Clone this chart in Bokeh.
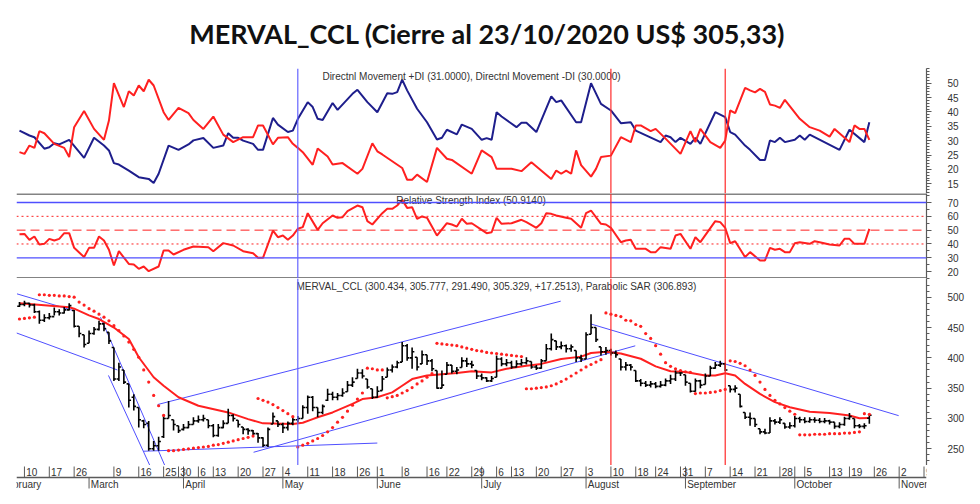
import pandas as pd
from bokeh.plotting import figure
from bokeh.layouts import column
from bokeh.models import Range1d, LinearAxis, FixedTicker, Span
from bokeh.embed import file_html
from bokeh.resources import INLINE
from bokeh.core.properties import value

# ---------------- calendar (trading days, index 0 = 2020-02-07) ----------------
holidays = ["2020-02-24", "2020-02-25", "2020-03-23", "2020-03-24", "2020-03-31",
            "2020-04-09", "2020-04-10", "2020-05-01", "2020-05-25", "2020-06-15",
            "2020-07-09", "2020-07-10", "2020-08-17", "2020-10-12", "2020-11-23"]
first_bar = "2020-02-07"

week_ticks = ["2020-02-10", "2020-02-17", "2020-02-26", "2020-03-09", "2020-03-16",
              "2020-03-25", "2020-03-30", "2020-04-01", "2020-04-06", "2020-04-13",
              "2020-04-20", "2020-04-27", "2020-05-04", "2020-05-11", "2020-05-18",
              "2020-05-26", "2020-06-01", "2020-06-08", "2020-06-16", "2020-06-22",
              "2020-06-29", "2020-07-01", "2020-07-06", "2020-07-13", "2020-07-20",
              "2020-07-27", "2020-08-03", "2020-08-10", "2020-08-18", "2020-08-24",
              "2020-08-31", "2020-09-01", "2020-09-07", "2020-09-14", "2020-09-21",
              "2020-09-28", "2020-10-01", "2020-10-05", "2020-10-13", "2020-10-19",
              "2020-10-26", "2020-11-02", "2020-11-09"]
week_labels = ["10", "17", "26", "9", "16", "25", "30", "", "6", "13", "20", "27", "4", "11",
               "18", "26", "1", "8", "16", "22", "29", "", "6", "13", "20", "27", "3", "10",
               "18", "24", "31", "", "7", "14", "21", "28", "", "5", "13", "19", "26", "2", "9"]
month_ticks = ["2020-02-03", "2020-03-02", "2020-04-01", "2020-05-04", "2020-06-01",
               "2020-07-01", "2020-08-03", "2020-09-01", "2020-10-01", "2020-11-02"]
month_labels = ["February", "March", "April", "May", "June", "July", "August",
                "September", "October", "November"]
vline_dates = ["2020-05-07", "2020-08-10", "2020-09-11"]
vline_colors = ["#6464ff", "#ff2a2a", "#ff2a2a"]

# ---------------- price (OHLC), one value per trading day ----------------
p_open = [485, 488, 490, 487, 476, 462, 466, 468, 476, 474,
          479, 478, 452, 438, 424, 440, 447, 456, 442, 417,
          365, 380, 357, 335, 318, 296, 292, 250, 255, 270,
          300, 298, 288, 282, 285, 290, 296, 298, 298, 288,
          272, 285, 292, 305, 297, 286, 282, 280, 275, 268,
          256, 291, 296, 290, 285, 292, 298, 300, 318, 335,
          318, 310, 330, 340, 335, 338, 344, 355, 366, 375,
          365, 349, 335, 346, 368, 380, 385, 393, 420, 400,
          401, 390, 405, 395, 379, 350, 373, 388, 378, 384,
          395, 390, 379, 370, 367, 362, 368, 398, 390, 392,
          385, 390, 392, 394, 385, 383, 395, 415, 428, 418,
          420, 415, 412, 400, 398, 439, 450, 418, 410, 412,
          408, 398, 385, 388, 379, 362, 358, 355, 357, 353,
          355, 362, 365, 375, 372, 358, 345, 362, 356, 370,
          383, 388, 390, 354, 348, 340, 310, 302, 300, 283,
          278, 276, 296, 294, 292, 286, 288, 300, 298, 295,
          298, 297, 295, 296, 294, 287, 290, 300, 300, 288,
          287, 300.434]
p_high = [492, 494, 491, 489, 478, 472, 474, 483, 480, 484,
          490, 479, 452, 438, 445, 451, 461, 458, 442, 417,
          392, 380, 357, 340, 318, 298, 296, 263, 270, 307,
          329, 298, 288, 291, 296, 302, 305, 306, 298, 291,
          291, 297, 316, 307, 297, 286, 284, 281, 276, 269,
          285, 310, 296, 293, 295, 302, 304, 322, 338, 337,
          318, 323, 349, 344, 342, 350, 362, 368, 382, 381,
          365, 349, 353, 370, 384, 389, 395, 426, 423, 417,
          401, 412, 405, 398, 379, 379, 393, 388, 385, 401,
          400, 395, 379, 374, 368, 370, 404, 401, 398, 395,
          396, 398, 401, 394, 388, 398, 423, 440, 428, 427,
          422, 422, 412, 405, 442, 472, 450, 418, 418, 415,
          412, 398, 393, 390, 379, 365, 362, 362, 360, 362,
          366, 372, 379, 380, 372, 358, 366, 364, 374, 387,
          393, 395, 392, 354, 355, 340, 310, 310, 300, 283,
          283, 302, 299, 302, 292, 294, 304, 303, 302, 302,
          302, 301, 301, 298, 294, 294, 303, 309, 300, 291,
          292, 305.777]
p_low = [484, 485, 483, 474, 456, 459, 463, 470, 470, 473,
         478, 450, 434, 417, 424, 438, 445, 444, 423, 362,
         362, 357, 318, 313, 285, 284, 247, 247, 247, 268,
         300, 280, 276, 280, 284, 290, 293, 295, 284, 269,
         270, 284, 292, 295, 285, 274, 273, 270, 260, 253,
         253, 291, 286, 276, 280, 289, 294, 300, 308, 312,
         302, 307, 329, 330, 330, 336, 344, 352, 366, 366,
         349, 332, 334, 346, 368, 376, 383, 393, 395, 382,
         379, 390, 388, 378, 349, 350, 373, 374, 373, 384,
         385, 383, 365, 363, 360, 360, 368, 386, 386, 382,
         384, 387, 389, 382, 380, 382, 395, 412, 413, 414,
         409, 410, 393, 393, 398, 439, 426, 404, 405, 404,
         400, 379, 379, 379, 360, 353, 352, 351, 350, 351,
         353, 357, 362, 370, 354, 343, 344, 350, 356, 370,
         382, 385, 378, 343, 343, 318, 299, 288, 286, 274,
         274, 276, 290, 291, 283, 283, 285, 293, 292, 293,
         293, 292, 292, 290, 283, 284, 288, 298, 284, 284,
         283, 291.490]
p_close = [488, 490, 487, 476, 462, 466, 468, 476, 474, 479,
           486, 452, 440, 422, 440, 447, 456, 448, 428, 365,
           385, 360, 330, 320, 298, 290, 250, 255, 262, 300,
           305, 290, 280, 285, 290, 296, 298, 300, 288, 272,
           285, 292, 305, 300, 290, 282, 280, 275, 268, 256,
           282, 303, 290, 285, 292, 298, 300, 318, 335, 318,
           310, 320, 340, 335, 338, 342, 355, 360, 375, 370,
           352, 335, 345, 365, 380, 385, 392, 420, 400, 410,
           385, 405, 395, 382, 350, 355, 388, 378, 380, 395,
           390, 388, 370, 367, 362, 366, 398, 390, 392, 385,
           390, 392, 395, 385, 383, 395, 415, 430, 418, 420,
           415, 418, 400, 398, 438, 450, 430, 410, 412, 408,
           405, 385, 388, 385, 362, 358, 355, 357, 353, 355,
           362, 365, 375, 375, 360, 345, 362, 355, 370, 383,
           388, 390, 380, 348, 350, 320, 302, 300, 290, 278,
           276, 296, 294, 298, 286, 288, 300, 298, 295, 298,
           297, 295, 296, 294, 287, 290, 300, 303, 288, 287,
           288, 305.329]

# Parabolic SAR, one value per trading day
sar = [464, 465, 466, 467,
       504, 504, 503, 503, 502, 502, 501, 500,
       492, 487, 481, 477, 472, 467, 461, 453, 445, 436, 426, 414, 401, 380, 360, 338, 321, 305,
       247, 247, 248, 249, 250, 251, 252, 253, 254, 256, 257, 259, 261, 263, 265, 267, 269, 271,
       333, 330, 327, 323, 318, 313, 308, 303,
       253, 256, 259, 263, 267, 272, 278, 285, 294, 302, 312, 322, 332, 342,
       383, 382, 380, 380,
       334, 336, 338, 342, 346, 351, 357, 362, 368, 374,
       424, 423, 422, 421, 420, 418, 416, 414, 412, 411, 409, 408, 407, 406, 405, 404, 403, 402,
       349, 349, 350, 351, 352, 354, 357, 361, 365, 370, 375, 380, 385, 389, 393, 397,
       474, 472, 470, 468, 462, 461, 455, 452, 440, 432, 420, 406, 392, 386, 382, 379, 377, 376,
       341, 342, 342, 343, 344, 346, 348,
       395, 394, 391, 387, 380, 371, 360, 348, 338, 330, 324, 318, 312, 307,
       273, 273, 273, 274, 274, 274, 275, 275, 275, 276, 276, 277, 278,
       308, 306.893]

# moving average (red line) vertices
ma_i = [0, 10, 11, 14, 16, 19, 22, 24, 27, 29, 32, 36, 42, 46, 49, 55, 57, 59, 60, 63,
        67, 69, 72, 75, 77, 79, 82, 85, 88, 91, 95, 98, 102, 105, 109, 113, 115, 118, 121, 125,
        128, 131, 134, 138, 140, 142, 144, 146, 149, 152, 155, 159, 163, 167, 169, 171]
ma_v = [490, 483.5, 481, 470, 464, 450, 431, 401, 368, 354, 335, 321, 310, 299, 292, 291, 293, 299, 302, 310,
        324, 332, 335, 343, 354, 365, 371, 373, 375, 378, 376, 382, 387, 390, 398, 402, 408, 410, 407, 398.5,
        386, 378, 376.5, 371, 371, 374.6, 371, 357, 340.5, 327, 318.5, 311, 309, 305, 300.5, 301]

# trend lines (start index, start value, end index, end value)
trend_x0 = [-0.5, -0.6, 16.3, 17.9, 24.9, 27.8, 47.1, 114.9]
trend_y0 = [505.5, 441, 467, 371, 246, 323, 244.3, 456]
trend_x1 = [10.8, 19.7, 29.4, 26.4, 72.0, 108.9, 123.9, 176.9]
trend_y1 = [478, 380, 219.5, 219.5, 259.5, 493.4, 419.8, 304.7]

# ---------------- DMI ----------------
pdi_i = [0, 2, 3, 5, 6, 7, 8, 10, 13, 15, 17, 18, 19, 20, 22, 24, 26, 27, 28, 30,
         32, 34, 35, 37, 39, 41, 42, 43, 44, 45, 47, 48, 49, 51, 52, 54, 55, 56, 58, 59,
         60, 61, 63, 64, 67, 68, 70, 72, 74, 75, 76, 77, 78, 80, 82, 84, 85, 86, 88, 89,
         91, 93, 94, 95, 96, 97, 100, 101, 102, 104, 107, 108, 109, 112, 113, 115, 117, 119, 121, 123,
         124, 129, 130, 131, 132, 133, 135, 136, 137, 140, 142, 143, 144, 146, 147, 149, 150, 151, 152, 153,
         154, 156, 157, 158, 159, 165, 167, 170, 171]
pdi_v = [33.5, 31.8, 31.2, 27.2, 27.7, 29.1, 28.7, 30.3, 24.0, 31.0, 28.3, 26.6, 22.2, 21.7, 19.6, 17.3, 16.7, 15.3, 18.5, 28.3,
         26.8, 28.7, 30.1, 30.9, 27.5, 28.3, 32.6, 31.0, 31.0, 30.0, 28.9, 26.8, 26.8, 37.9, 35.6, 33.0, 33.5, 37.5, 43.4, 41.7,
         37.6, 37.2, 43.1, 40.7, 46.3, 47.7, 43.4, 39.9, 46.5, 46.3, 46.9, 51.2, 47.5, 41.1, 36.4, 30.4, 31.0, 33.8, 32.2, 35.6,
         34.1, 30.3, 30.9, 30.3, 39.9, 38.4, 34.7, 36.2, 36.2, 33.0, 45.4, 43.4, 44.0, 36.4, 36.4, 50.0, 42.8, 40.5, 36.1, 36.4,
         33.5, 29.5, 31.8, 31.2, 29.5, 31.0, 28.9, 31.0, 28.9, 39.9, 38.2, 33.0, 32.1, 28.3, 26.8, 23.3, 23.3, 30.1, 29.5, 31.0,
         29.5, 30.3, 31.8, 30.3, 32.1, 26.8, 33.8, 29.5, 36.4]
mdi_i = [0, 1, 2, 3, 4, 5, 7, 9, 10, 11, 13, 15, 17, 18, 19, 21, 22, 23, 24, 25,
         26, 27, 29, 30, 32, 34, 35, 37, 39, 41, 43, 45, 47, 48, 49, 51, 52, 54, 55, 56,
         57, 59, 60, 62, 63, 65, 68, 69, 71, 72, 73, 77, 78, 79, 80, 82, 84, 86, 87, 91,
         93, 95, 96, 99, 101, 103, 107, 108, 109, 110, 111, 112, 113, 115, 116, 117, 119, 121, 123, 124,
         125, 127, 128, 130, 133, 135, 136, 137, 139, 141, 142, 143, 144, 146, 147, 148, 149, 150, 151, 152,
         153, 154, 157, 159, 161, 163, 164, 167, 168, 169, 170, 171]
mdi_v = [26.0, 25.4, 28.3, 27.5, 33.3, 32.6, 28.9, 27.5, 24.3, 34.7, 40.3, 34.1, 30.3, 37.0, 50.0, 41.7, 47.2, 45.7, 49.2, 47.2,
         51.2, 49.2, 39.9, 37.2, 41.4, 39.6, 37.2, 34.1, 38.4, 32.1, 29.5, 31.2, 31.2, 35.3, 35.3, 28.7, 31.0, 31.2, 28.9, 27.5,
         26.0, 21.6, 27.3, 24.5, 21.7, 22.2, 18.5, 20.2, 29.1, 26.3, 25.2, 20.5, 16.4, 16.4, 18.2, 15.6, 27.5, 23.7, 23.3, 18.5,
         26.6, 24.3, 20.2, 20.2, 19.4, 22.5, 16.7, 19.6, 18.5, 19.6, 18.5, 26.6, 21.5, 17.5, 20.2, 24.3, 24.8, 31.2, 29.5, 35.3,
         35.3, 33.3, 34.1, 30.7, 25.4, 33.3, 29.5, 34.1, 29.5, 27.5, 30.0, 40.5, 39.6, 48.4, 47.5, 46.8, 48.0, 47.0, 42.6, 42.2,
         41.4, 44.2, 37.6, 34.7, 33.5, 31.4, 34.1, 29.5, 35.3, 34.1, 34.1, 30.3]

# ---------------- RSI ----------------
rsi_i = [0, 1, 2, 3, 4, 5, 6, 7, 8, 9, 10, 11, 13, 14, 15, 16, 17, 18, 19, 20,
         22, 23, 24, 25, 26, 28, 29, 30, 31, 33, 35, 38, 39, 41, 43, 45, 47, 48, 49, 51,
         52, 53, 54, 55, 56, 57, 58, 60, 61, 63, 64, 65, 66, 68, 69, 70, 71, 73, 74, 75,
         76, 77, 78, 79, 80, 81, 82, 84, 86, 87, 88, 89, 90, 91, 93, 94, 95, 96, 97, 99,
         101, 102, 104, 105, 106, 107, 108, 110, 111, 113, 114, 115, 117, 118, 119, 121, 122, 123, 124, 126,
         127, 128, 129, 131, 132, 133, 135, 136, 137, 140, 141, 142, 143, 144, 146, 147, 149, 150, 151, 152,
         153, 154, 155, 156, 157, 159, 160, 161, 163, 165, 166, 167, 168, 170, 171]
rsi_v = [47.0, 47.3, 43.0, 45.4, 39.6, 40.1, 43.7, 42.5, 43.7, 47.8, 47.8, 37.2, 30.5, 37.2, 37.2, 45.4, 42.5, 35.8, 24.4, 34.8,
         25.6, 25.2, 22.0, 23.7, 20.3, 23.7, 35.3, 35.3, 32.4, 35.8, 38.2, 37.7, 34.8, 40.6, 38.9, 34.8, 33.3, 30.0, 30.0, 49.7,
         44.9, 46.1, 43.0, 46.1, 51.0, 52.2, 62.3, 50.2, 55.0, 60.6, 58.9, 59.4, 63.7, 67.8, 66.6, 56.5, 54.1, 62.3, 65.4, 65.4,
         67.8, 71.9, 66.1, 66.6, 58.2, 59.9, 58.9, 46.1, 55.0, 54.1, 52.6, 58.2, 54.6, 55.0, 50.2, 47.8, 48.5, 58.9, 54.6, 55.0,
         57.5, 55.8, 51.7, 55.0, 62.3, 61.8, 60.6, 58.9, 58.2, 51.7, 62.3, 64.2, 54.6, 54.1, 51.7, 41.3, 42.5, 43.0, 36.5, 36.5,
         34.1, 34.1, 37.7, 36.5, 46.1, 47.3, 36.5, 44.9, 41.3, 56.5, 55.8, 51.7, 40.6, 42.0, 30.5, 34.1, 28.1, 28.1, 37.2, 35.8,
         36.5, 34.1, 34.1, 40.6, 41.3, 40.1, 42.0, 41.3, 39.6, 38.9, 43.7, 43.7, 40.1, 40.1, 50.9]

rsi_levels = [70, 60, 50, 40, 30]
dmi_ticks = [15, 20, 25, 30, 35, 40, 45, 50]
rsi_ticks = [20, 30, 40, 50, 60, 70]
price_ticks = [250, 300, 350, 400, 450, 500]

title_text = "MERVAL_CCL (Cierre al 23/10/2020 US$ 305,33)"
dmi_text = "Directnl Movement +DI (31.0000), Directnl Movement -DI (30.0000)"
rsi_text = "Relative Strength Index (50.9140)"
price_text = "MERVAL_CCL (300.434, 305.777, 291.490, 305.329, +17.2513), Parabolic SAR (306.893)"

# ---------------- calendar mapping ----------------
bd = pd.bdate_range("2020-02-03", "2020-11-20")
bd = bd[~bd.isin(pd.to_datetime(holidays))]
base = list(bd).index(pd.Timestamp(first_bar))
pos = {d.strftime("%Y-%m-%d"): k - base for k, d in enumerate(bd)}

FONT = "Liberation Sans"
RED = "#ff2020"
NAVY = "#1e1e8c"
BLUE = "#4f4fff"
GRAY = "#5a5a5a"
TXT = "#333333"

xr = Range1d(-0.6, 182.5)
PX = 910 / (182.5 + 0.6)  # pixels per trading day


def ix(px):
    return -0.6 + (px - 16) / PX


def panel(h, y0, y1):
    p = figure(width=980, height=h, x_range=xr, y_range=Range1d(y0, y1),
               output_backend="svg", toolbar_location=None,
               x_axis_type=None, y_axis_type=None,
               min_border_left=16, min_border_right=54, min_border_top=0, min_border_bottom=0)
    p.outline_line_color = None
    p.background_fill_color = "white"
    p.border_fill_color = "white"
    return p


def right_axis(p, ticks, minor):
    ax = LinearAxis(ticker=FixedTicker(ticks=ticks, minor_ticks=minor))
    ax.axis_line_color = GRAY
    ax.axis_line_width = 1.2
    ax.major_tick_line_color = GRAY
    ax.minor_tick_line_color = GRAY
    ax.major_tick_out = 5
    ax.major_tick_in = 0
    ax.minor_tick_out = 3
    ax.minor_tick_in = 0
    ax.major_label_standoff = 16
    ax.major_label_text_font = FONT
    ax.major_label_text_font_size = "10px"
    ax.major_label_text_color = TXT
    p.add_layout(ax, "right")


def vlines(p):
    for d, c in zip(vline_dates, vline_colors):
        p.add_layout(Span(location=pos[d], dimension="height", line_color=c, line_width=1.2))


# ---------------- title ----------------
t = figure(width=980, height=68, x_range=Range1d(0, 980), y_range=Range1d(68, 0),
           output_backend="svg", toolbar_location=None, x_axis_type=None, y_axis_type=None,
           min_border=0)
t.outline_line_color = None
t.text(x=[507], y=[33], text=[title_text], text_align="center", text_baseline="middle",
       text_font=value("Lato"), text_font_style="bold", text_font_size="27px", text_color="#111111")

# ---------------- DMI ----------------
p1 = panel(125, 11.62, 55.11)
vlines(p1)
p1.line(pdi_i, pdi_v, line_color=NAVY, line_width=2)
p1.line(mdi_i, mdi_v, line_color=RED, line_width=2)
p1.text(x=[ix(471)], y=[52.3], text=[dmi_text], text_align="center", text_baseline="middle",
        text_font=value(FONT), text_font_size="10px", text_color=TXT)
right_axis(p1, dmi_ticks, list(range(12, 56)))

# ---------------- RSI ----------------
p2 = panel(85, 15.03, 76.51)
p2.add_layout(Span(location=76.2, dimension="width", line_color=GRAY, line_width=1.5))
p2.add_layout(Span(location=15.35, dimension="width", line_color=GRAY, line_width=1.5))
for lv in rsi_levels:
    if lv in (70, 30):
        p2.add_layout(Span(location=lv, dimension="width", line_color=BLUE, line_width=1.3))
    elif lv == 50:
        p2.add_layout(Span(location=lv, dimension="width", line_color=RED, line_width=1,
                           line_dash="9 5"))
    else:
        p2.add_layout(Span(location=lv, dimension="width", line_color=RED, line_width=1,
                           line_dash="2 3"))
vlines(p2)
p2.line(rsi_i, rsi_v, line_color=RED, line_width=2)
p2.text(x=[ix(470.5)], y=[71.45], text=[rsi_text], text_align="center", text_baseline="middle",
        text_font=value(FONT), text_font_size="10px", text_color=TXT)
right_axis(p2, rsi_ticks, list(range(20, 76, 5)))

# ---------------- price ----------------
p3 = panel(187, 222.5, 530.8)
vlines(p3)
p3.segment(x0=trend_x0, y0=trend_y0, x1=trend_x1, y1=trend_y1, line_color=BLUE, line_width=1)
p3.line(ma_i, ma_v, line_color=RED, line_width=2)
n = len(p_close)
xs = list(range(n))
p3.segment(x0=xs, y0=p_low, x1=xs, y1=p_high, line_color="black", line_width=1.6)
p3.segment(x0=[x - 0.45 for x in xs], y0=p_open, x1=xs, y1=p_open, line_color="black", line_width=1.6)
p3.segment(x0=xs, y0=p_close, x1=[x + 0.45 for x in xs], y1=p_close, line_color="black", line_width=1.6)
p3.scatter(xs, sar, marker="circle", size=3.2, fill_color=RED, line_color=None)
p3.text(x=[ix(296)], y=[517.6], text=[price_text], text_align="left", text_baseline="middle",
        text_font=value(FONT), text_font_size="10px", text_color=TXT)
right_axis(p3, price_ticks, list(range(230, 531, 10)))

# ---------------- date axis strip ----------------
s = figure(width=980, height=39, x_range=xr, y_range=Range1d(39, 0),
           output_backend="svg", toolbar_location=None, x_axis_type=None, y_axis_type=None,
           min_border_left=16, min_border_right=54, min_border_top=0, min_border_bottom=0)
s.outline_line_color = None
wx = [pos[d] for d in week_ticks]
mx = [pos[d] for d in month_ticks]
s.segment(x0=[xr.start], y0=[12], x1=[xr.end], y1=[12], line_color=GRAY, line_width=1.6)
s.segment(x0=wx, y0=1, x1=wx, y1=12, line_color=GRAY, line_width=1)
s.text(x=[x + 0.35 for x in wx], y=6, text=week_labels, text_align="left", text_baseline="middle",
       text_font=value(FONT), text_font_size="10px", text_color=TXT)
s.segment(x0=mx, y0=12, x1=mx, y1=23, line_color=GRAY, line_width=1)
s.text(x=[x + 0.35 for x in mx], y=18.5, text=month_labels, text_align="left", text_baseline="middle",
       text_font=value(FONT), text_font_size="10px", text_color=TXT)

layout = column(t, p1, p2, p3, s, spacing=0)
open("out.html", "w").write(file_html(layout, INLINE))
